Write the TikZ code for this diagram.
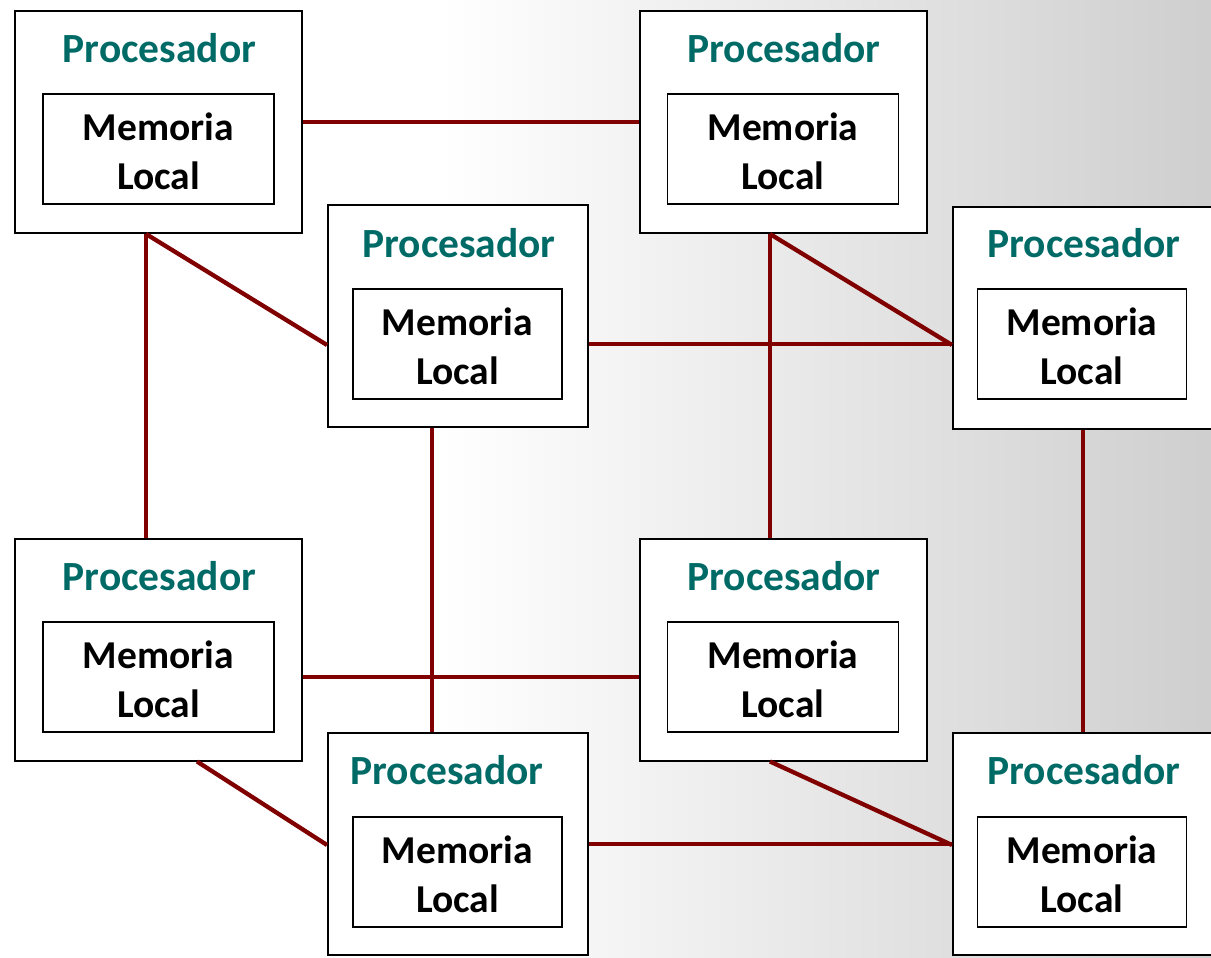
\documentclass[tikz,border=0pt]{standalone}
\usepackage{fontspec}
\setmainfont{Carlito}
\definecolor{proctitle}{RGB}{0,107,102}
\definecolor{linkred}{RGB}{128,0,0}
\tikzset{
  procbox/.style={draw=black, line width=2pt, fill=white, inner sep=0pt},
  membox/.style={draw=black, line width=1.8pt, fill=white, inner sep=0pt},
  memtext/.style={inner sep=0pt, align=center, font=\bfseries\fontsize{39.5}{49}\selectfont},
  proctext/.style={text=proctitle, inner sep=0pt, font=\bfseries\fontsize{41.5}{48}\selectfont},
  link/.style={draw=linkred, line width=4.3pt},
  wide/.style={minimum width=287pt, minimum height=222pt},
  narrow/.style={minimum width=260pt, minimum height=222pt},
  widemem/.style={minimum width=231pt, minimum height=110pt},
  narrowmem/.style={minimum width=209pt, minimum height=110pt}
}
\begin{document}
\begin{tikzpicture}[x=1pt,y=-1pt]
\useasboundingbox (0,0) rectangle (1211,958);
\clip (0,0) rectangle (1211,958);
% background
\fill[white] (0,0) rectangle (1211,958);
\shade[left color=white, right color=gray!38] (440,0) rectangle (1211,958);

% processor boxes
\node[procbox, wide]   (A) at (158.5,122) {};
\node[procbox, wide]   (B) at (783,122) {};
\node[procbox, narrow] (C) at (458,316) {};
\node[procbox, narrow] (D) at (1083,317.5) {};
\node[procbox, wide]   (E) at (158.5,649.5) {};
\node[procbox, wide]   (F) at (783,649.5) {};
\node[procbox, narrow] (G) at (458,844) {};
\node[procbox, narrow] (H) at (1083,844) {};

% titles
\node[proctext] (At) at (159.5,48) {Procesador};
\node[proctext] (Bt) at (784,48) {Procesador};
\node[proctext] (Ct) at (459,243) {Procesador};
\node[proctext] (Dt) at (1084,243) {Procesador};
\node[proctext] (Et) at (159.5,576) {Procesador};
\node[proctext] (Ft) at (784,576) {Procesador};
\node[proctext] (Gt) at (447,770) {Procesador};
\node[proctext] (Ht) at (1084,770) {Procesador};

% local memories
\node[membox, widemem]   (Am) at (158.5,149) {};
\node[membox, widemem]   (Bm) at (783,149) {};
\node[membox, narrowmem] (Cm) at (457.5,344) {};
\node[membox, narrowmem] (Dm) at (1082,344) {};
\node[membox, widemem]   (Em) at (158.5,677) {};
\node[membox, widemem]   (Fm) at (783,677) {};
\node[membox, narrowmem] (Gm) at (457.5,872) {};
\node[membox, narrowmem] (Hm) at (1082,872) {};
\foreach \m in {Am,Bm,Cm,Dm,Em,Fm,Gm,Hm}
  \node[memtext] (\m t) at ([yshift=-2.5pt]\m.center) {Memoria\\Local};

% interconnection links
\draw[link] (A.east) -- (B.west);
\draw[link] ([xshift=-12.5pt]A.south) -- ([yshift=-29pt]C.west);
\draw[link] ([xshift=-12.5pt]A.south) -- ([xshift=-12.5pt]E.north);
\draw[link] ([xshift=-13pt]B.south) -- ([yshift=-27.5pt]D.west);
\draw[link] ([xshift=-13pt]B.south) -- ([xshift=-13pt]F.north);
\draw[link] ([yshift=-28pt]C.east) -- ([yshift=-26.5pt]D.west);
\draw[link] ([xshift=-26pt]C.south) -- ([xshift=-26pt]G.north);
\draw[link] (D.south) -- (H.north);
\draw[link] ([yshift=-27.5pt]E.east) -- ([yshift=-27.5pt]F.west);
\draw[link] ([xshift=38.5pt]E.south) -- ([yshift=-1pt]G.west);
\draw[link] ([xshift=-13pt]F.south) -- ([yshift=-1pt]H.west);
\draw[link] (G.east) -- (H.west);
\end{tikzpicture}
\end{document}
